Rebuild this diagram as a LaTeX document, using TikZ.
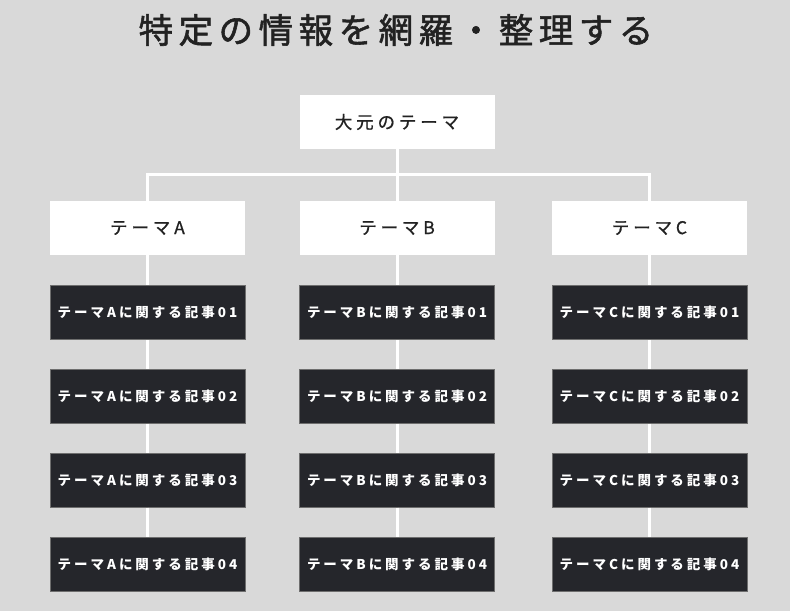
\documentclass[tikz,border=0pt]{standalone}
\usepackage{fontspec}
\usepackage{tikz}
\usetikzlibrary{positioning}
\newfontfamily\titlefont[LetterSpace=16,FakeBold=1.6]{Noto Sans CJK JP}
\newfontfamily\themefont[LetterSpace=22,FakeBold=0.8]{Noto Sans CJK JP}
\newfontfamily\postfont[LetterSpace=22]{Noto Sans CJK JP}
\definecolor{bggray}{HTML}{D9D9D9}
\definecolor{inkdark}{HTML}{222222}
\definecolor{postfill}{HTML}{25262B}
\definecolor{postline}{HTML}{6E6E6E}
\tikzset{
  themebox/.style={fill=white, minimum width=195pt, minimum height=54pt, inner sep=0pt,
    text=inkdark, font=\themefont\fontsize{17.5}{17.5}\selectfont},
  postbox/.style={fill=postfill, draw=postline, line width=0.8pt, minimum width=195pt,
    minimum height=54pt, inner sep=0pt, text=white, font=\postfont\bfseries\fontsize{13.5}{13.5}\selectfont},
  link/.style={draw=white, line width=3pt}
}

\begin{document}
\begin{tikzpicture}[x=1pt,y=-1pt, node distance=29pt]
\fill[bggray] (0,0) rectangle (790,611);
\node[text=inkdark, font=\titlefont\fontsize{34.5}{34.5}\selectfont] (title) at (396,30) {特定の情報を網羅・整理する};
\node[themebox] (root) at (397,122) {大元のテーマ};
\node[themebox] (tA) at (147.5,228) {テーマA};
\node[themebox] (tB) at (397,228) {テーマB};
\node[themebox] (tC) at (649.5,228) {テーマC};
\coordinate (bar) at (397,174);
% column A
\node[postbox, below=30pt of tA] (a1) {テーマAに関する記事01};
\node[postbox, below=of a1] (a2) {テーマAに関する記事02};
\node[postbox, below=of a2] (a3) {テーマAに関する記事03};
\node[postbox, below=of a3] (a4) {テーマAに関する記事04};
% column B
\node[postbox, below=30pt of tB] (b1) {テーマBに関する記事01};
\node[postbox, below=of b1] (b2) {テーマBに関する記事02};
\node[postbox, below=of b2] (b3) {テーマBに関する記事03};
\node[postbox, below=of b3] (b4) {テーマBに関する記事04};
% column C
\node[postbox, below=30pt of tC] (c1) {テーマCに関する記事01};
\node[postbox, below=of c1] (c2) {テーマCに関する記事02};
\node[postbox, below=of c2] (c3) {テーマCに関する記事03};
\node[postbox, below=of c3] (c4) {テーマCに関する記事04};
% links
\draw[link] (root.south) -- (bar);
\draw[link] (tA.north) |- (bar) -| (tC.north);
\draw[link] (bar) -- (tB.north);
\draw[link] (tA.south) -- (a1.north) (a1.south) -- (a2.north) (a2.south) -- (a3.north) (a3.south) -- (a4.north);
\draw[link] (tB.south) -- (b1.north) (b1.south) -- (b2.north) (b2.south) -- (b3.north) (b3.south) -- (b4.north);
\draw[link] (tC.south) -- (c1.north) (c1.south) -- (c2.north) (c2.south) -- (c3.north) (c3.south) -- (c4.north);
\end{tikzpicture}
\end{document}
